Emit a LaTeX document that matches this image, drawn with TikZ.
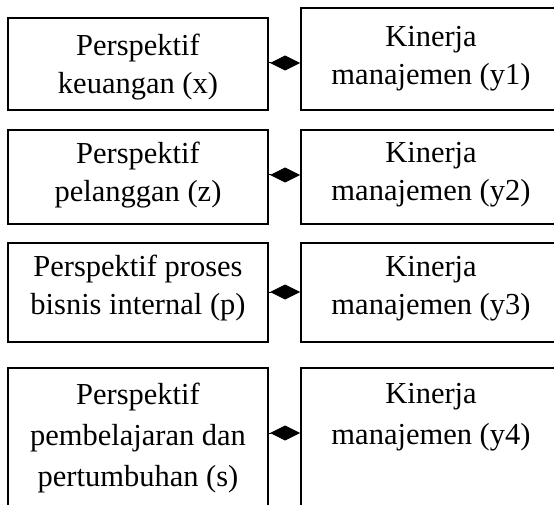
\documentclass[tikz,border=0pt]{standalone}
\usepackage{fontspec}
\setmainfont{Liberation Serif}
\usetikzlibrary{arrows.meta}
\begin{document}
\begin{tikzpicture}[x=1pt,y=-1pt,
  box/.style={draw,line width=1.6pt,inner sep=0pt,rectangle,minimum width=260pt},
  txt/.style={inner sep=0pt,align=center,font=\fontsize{30.5}{38}\selectfont},
  txtwide/.style={txt,font=\fontsize{30.5}{41}\selectfont},
  dia/.style={line width=1pt,-{Diamond[length=30pt,width=15pt]}}
]
\useasboundingbox (0,0) rectangle (554,505);
\clip (0,0) rectangle (554,505);
% row 1
\node[box,minimum height=92pt]  (l1) at (138,64) {};
\node[box,minimum height=102pt] (r1) at (431,59) {};
% row 2
\node[box,minimum height=94pt] (l2) at (138,177) {};
\node[box,minimum height=94pt] (r2) at (431,177) {};
% row 3
\node[box,minimum height=99pt] (l3) at (138,292.5) {};
\node[box,minimum height=99pt] (r3) at (431,292.5) {};
% row 4
\node[box,minimum height=162pt] (l4) at (138,449) {};
\node[box,minimum height=162pt] (r4) at (431,449) {};
% texts
\node[txt] (l1t) at (138,67) {Perspektif\\keuangan (x)};
\node[txt] (r1t) at (431,59) {Kinerja\\manajemen (y1)};
\node[txt] (l2t) at (138,175) {Perspektif\\pelanggan (z)};
\node[txt] (r2t) at (431,175) {Kinerja\\manajemen (y2)};
\node[txt] (l3t) at (138,288) {Perspektif proses\\bisnis internal (p)};
\node[txt] (r3t) at (431,289) {Kinerja\\manajemen (y3)};
\node[txtwide] (l4t) at (138,438) {Perspektif\\pembelajaran dan\\pertumbuhan (s)};
\node[txtwide] (r4t) at (431,417) {Kinerja\\manajemen (y4)};
% connectors
\draw[dia] (l1.east |- 0,63) -- (r1.west |- 0,63);
\draw[dia] (l2.east |- 0,175) -- (r2.west |- 0,175);
\draw[dia] (l3.east |- 0,292) -- (r3.west |- 0,292);
\draw[dia] (l4.east |- 0,433) -- (r4.west |- 0,433);
\end{tikzpicture}
\end{document}
